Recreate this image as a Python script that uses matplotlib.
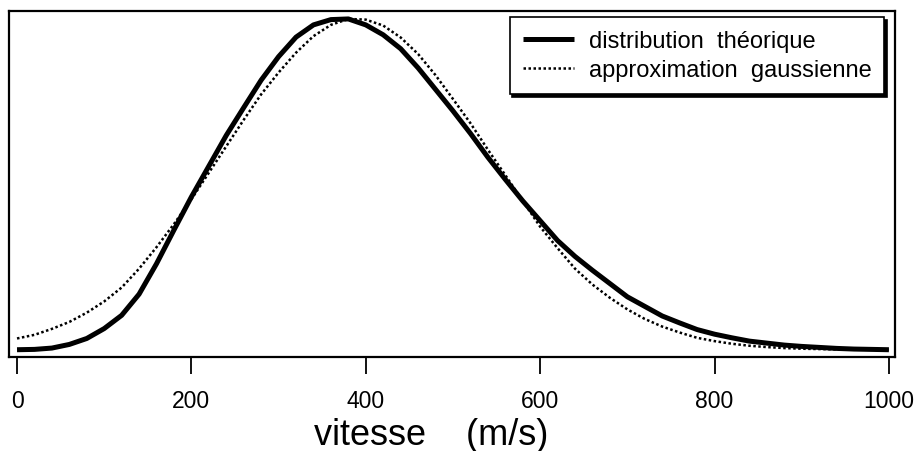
import matplotlib.pyplot as plt

# vitesse (m/s), sampled every 20 m/s
vitesse = list(range(0, 1001, 20))

# distribution theorique (normalisee au maximum)
theorique = [0.000, 0.001, 0.005, 0.016, 0.034, 0.064, 0.104, 0.168, 0.260, 0.362,
             0.462, 0.555, 0.648, 0.732, 0.815, 0.886, 0.945, 0.982, 0.998, 1.000,
             0.982, 0.952, 0.910, 0.852, 0.787, 0.722, 0.654, 0.582, 0.515, 0.450,
             0.390, 0.330, 0.282, 0.240, 0.200, 0.160, 0.131, 0.102, 0.081, 0.061,
             0.047, 0.036, 0.026, 0.020, 0.014, 0.010, 0.007, 0.004, 0.002, 0.001,
             0.000]

# approximation gaussienne
gaussienne = [0.034, 0.045, 0.063, 0.084, 0.112, 0.146, 0.188, 0.245, 0.310, 0.380,
              0.455, 0.535, 0.615, 0.695, 0.772, 0.838, 0.898, 0.948, 0.982, 1.000,
              0.998, 0.980, 0.944, 0.894, 0.830, 0.758, 0.685, 0.605, 0.528, 0.450,
              0.372, 0.307, 0.245, 0.197, 0.157, 0.122, 0.093, 0.070, 0.052, 0.036,
              0.026, 0.018, 0.012, 0.008, 0.005, 0.003, 0.002, 0.001, 0.000, 0.000,
              0.000]

xticks = [0, 200, 400, 600, 800, 1000]

plt.rcParams['font.family'] = ['Liberation Sans', 'DejaVu Sans']

fig = plt.figure(figsize=(9.22, 4.52), dpi=100)
ax = fig.add_axes([9 / 922, 1 - 358 / 452, 886 / 922, 346 / 452])

ax.plot(vitesse, theorique, color='black', lw=3.6, solid_capstyle='butt',
        solid_joinstyle='round', label='distribution  théorique')
ax.plot(vitesse, gaussienne, color='black', lw=1.8, linestyle=(0, (1, 1)),
        label='approximation  gaussienne')

ax.set_xlim(-9.2, 1007)
ax.set_ylim(-0.022, 1.024)

ax.set_xticks(xticks)
ax.set_xticklabels([str(t) for t in xticks])
ax.set_yticks([])
ax.tick_params(axis='x', direction='out', length=12, width=1.3, pad=11,
               labelsize=16.5, color='black')

for s in ax.spines.values():
    s.set_linewidth(1.6)
    s.set_color('black')

ax.set_xlabel('vitesse    (m/s)', fontsize=26, x=0.476, labelpad=4)

leg = ax.legend(loc='upper right', bbox_to_anchor=(0.988, 0.983),
                borderaxespad=0, fontsize=17, frameon=True, fancybox=False,
                shadow={'color': 'black', 'alpha': 1},
                handlelength=2.2, handletextpad=0.6, labelspacing=0.3,
                borderpad=0.55)
leg.get_frame().set_edgecolor('black')
leg.get_frame().set_linewidth(1.2)

fig.savefig('out.png', dpi=100)
